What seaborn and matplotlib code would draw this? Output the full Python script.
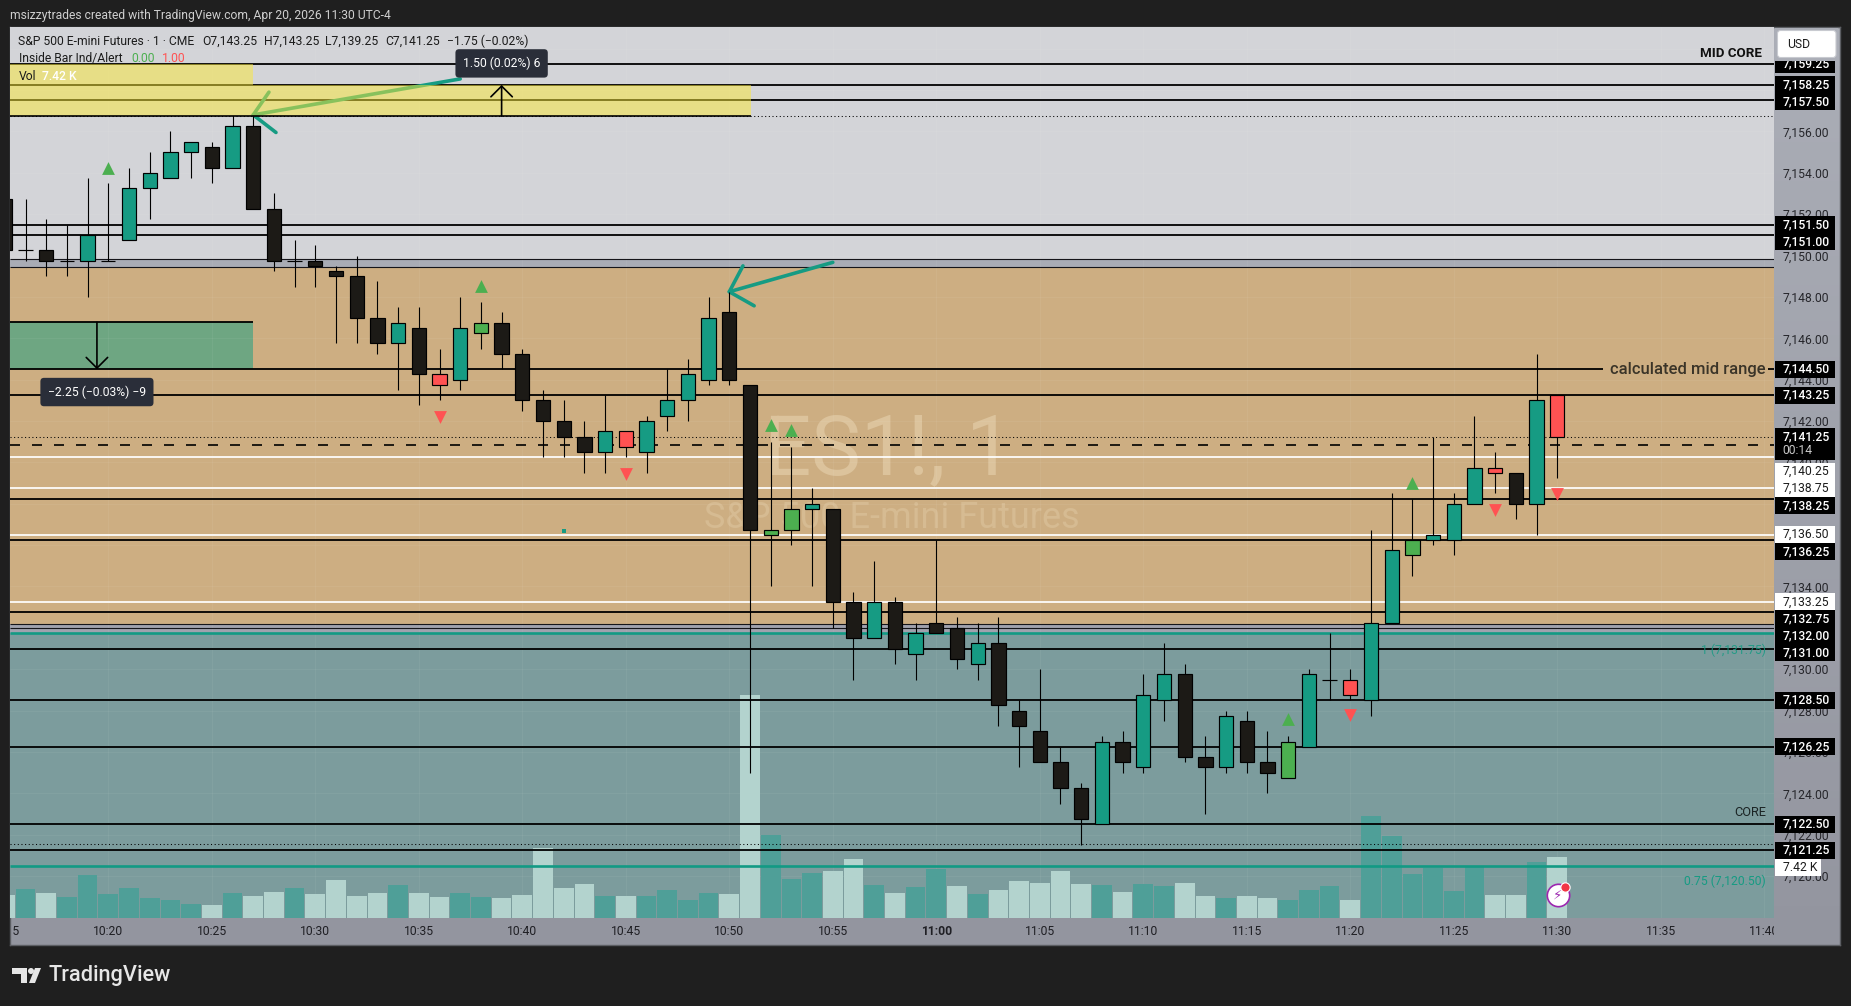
import numpy as np
import pandas as pd
import matplotlib.pyplot as plt
import matplotlib.colors as mcolors
import matplotlib.transforms as mtrans
from matplotlib.patches import Rectangle, FancyBboxPatch, Polygon, Circle
import seaborn as sns

# minutes after 10:00, one candle per minute (10:15 is cut by the left edge)
minutes = list(range(15, 91))
opens = [7152.75, 7150.25, 7150.25, 7149.75, 7149.75, 7149.75, 7150.75, 7153.25, 7153.75, 7155.0,
         7155.25, 7154.25, 7156.25, 7152.25, 7149.75, 7149.75, 7149.25, 7149.0, 7147.0, 7145.75,
         7146.5, 7144.25, 7144.0, 7146.25, 7146.75, 7145.25, 7143.0, 7142.0, 7141.25, 7140.5,
         7141.5, 7140.5, 7142.25, 7143.0, 7144.0, 7147.25, 7143.75, 7136.5, 7136.75, 7137.75,
         7137.75, 7133.25, 7131.5, 7133.25, 7130.75, 7131.75, 7132.0, 7130.25, 7131.25, 7128.0,
         7127.0, 7125.5, 7124.25, 7122.5, 7126.5, 7125.25, 7128.5, 7129.75, 7125.75, 7125.25,
         7127.5, 7125.5, 7124.75, 7126.25, 7129.5, 7129.5, 7128.5, 7132.25, 7135.5, 7136.25,
         7136.25, 7138.0, 7139.75, 7139.5, 7138.0, 7143.25]
highs = [7152.75, 7152.75, 7151.75, 7151.5, 7153.75, 7153.5, 7154.25, 7155.0, 7156.0, 7155.5,
         7155.5, 7156.75, 7156.75, 7153.0, 7150.75, 7150.5, 7149.5, 7150.0, 7148.75, 7147.5,
         7147.5, 7145.5, 7148.0, 7147.75, 7147.25, 7145.5, 7143.5, 7143.0, 7142.0, 7143.25,
         7141.5, 7142.25, 7144.5, 7145.0, 7148.0, 7148.25, 7143.75, 7141.0, 7140.75, 7138.75,
         7137.75, 7133.75, 7135.25, 7133.5, 7132.25, 7136.25, 7132.5, 7132.25, 7132.5, 7128.5,
         7130.0, 7126.25, 7124.5, 7126.75, 7127.0, 7129.75, 7131.25, 7130.25, 7126.75, 7128.0,
         7128.0, 7127.0, 7126.75, 7130.0, 7131.75, 7130.0, 7136.75, 7138.5, 7138.25, 7141.25,
         7138.5, 7142.25, 7140.5, 7139.5, 7145.25, 7143.25]
lows = [7150.25, 7149.75, 7149.0, 7149.0, 7148.0, 7149.75, 7150.75, 7151.75, 7153.75, 7153.75,
        7153.5, 7154.25, 7152.25, 7149.25, 7148.5, 7148.5, 7145.75, 7145.75, 7145.25, 7143.5,
        7142.75, 7143.0, 7143.5, 7145.5, 7144.5, 7142.5, 7140.25, 7140.25, 7139.5, 7139.5,
        7140.25, 7139.5, 7141.5, 7142.0, 7143.75, 7143.75, 7125.0, 7134.0, 7136.0, 7134.0,
        7132.0, 7129.5, 7131.5, 7130.25, 7129.5, 7131.75, 7130.0, 7129.5, 7127.25, 7125.25,
        7125.5, 7123.5, 7121.5, 7122.5, 7125.0, 7125.0, 7127.5, 7125.5, 7123.0, 7125.0,
        7125.0, 7124.0, 7124.75, 7126.25, 7128.5, 7128.5, 7127.75, 7132.25, 7134.5, 7136.0,
        7135.5, 7138.0, 7138.5, 7137.25, 7136.5, 7139.25]
closes = [7150.25, 7150.25, 7149.75, 7149.75, 7151.0, 7149.75, 7153.25, 7154.0, 7155.0, 7155.5,
          7154.25, 7156.25, 7152.25, 7149.75, 7149.75, 7149.5, 7149.0, 7147.0, 7145.75, 7146.75,
          7144.25, 7143.75, 7146.5, 7146.75, 7145.25, 7143.0, 7142.0, 7141.25, 7140.5, 7141.5,
          7140.75, 7142.0, 7143.0, 7144.25, 7147.0, 7144.0, 7136.75, 7136.75, 7137.75, 7138.0,
          7133.25, 7131.5, 7133.25, 7131.0, 7131.75, 7132.25, 7130.5, 7131.25, 7128.25, 7127.25,
          7125.5, 7124.25, 7122.75, 7126.5, 7125.5, 7128.75, 7129.75, 7125.75, 7125.25, 7127.75,
          7125.5, 7125.0, 7126.5, 7129.75, 7129.5, 7128.75, 7132.25, 7135.75, 7136.25, 7136.5,
          7138.0, 7139.75, 7139.5, 7138.0, 7143.0, 7141.25]
# u = up, d = down, r / g = inside bar indicator colours
kinds = list("ddddudu" "uuu" "dudddddddu" "drugdddddu" "ruuuuddggu" "ddududdudd" "ddd" "uduuddu"
             "ddgudruugu" "uurdur")

# volume in thousands, side follows the bar colour
volumes = [2.77, 3.51, 3.02, 2.53, 5.22, 2.90, 3.63, 2.41, 2.20, 1.67,
           1.55, 3.02, 2.65, 3.14, 3.63, 2.90, 4.61, 2.65, 3.02, 4.00,
           3.02, 2.53, 3.02, 2.53, 2.41, 2.77, 8.53, 3.63, 4.12, 2.65,
           2.65, 2.65, 3.39, 2.16, 3.02, 2.90, 27.25, 10.12, 4.73, 5.47,
           5.71, 7.18, 4.00, 3.02, 3.75, 5.96, 3.88, 2.90, 3.39, 4.49,
           4.24, 5.71, 4.12, 4.00, 3.14, 4.12, 3.88, 4.24, 2.65, 2.41,
           2.65, 2.41, 2.16, 3.39, 3.88, 2.16, 12.44, 10.00, 5.34, 6.08,
           3.26, 6.32, 2.77, 2.77, 6.81, 7.42]
vol_side = ["dn", "up", "dn", "up", "up", "up", "up", "up", "up", "up",
            "dn", "up", "dn", "dn", "up", "dn", "dn", "dn", "dn", "up",
            "dn", "dn", "up", "up", "dn", "dn", "dn", "dn", "dn", "up",
            "dn", "up", "up", "up", "up", "dn", "dn", "up", "up", "up",
            "dn", "dn", "up", "dn", "up", "up", "dn", "up", "dn", "dn",
            "dn", "dn", "dn", "up", "dn", "up", "up", "dn", "dn", "up",
            "dn", "dn", "up", "up", "up", "dn", "up", "up", "up", "up",
            "up", "up", "dn", "dn", "up", "dn"]

up_marks_t = [20, 38, 52, 53, 77, 83]
up_marks_p = [7154.25, 7148.55, 7141.8, 7141.55, 7127.6, 7139.0]
dn_marks_t = [36, 45, 80, 87, 90]
dn_marks_p = [7142.2, 7139.45, 7127.8, 7137.7, 7138.45]

black_levels = [7159.25, 7158.25, 7157.5, 7151.5, 7151.0, 7143.25, 7138.25, 7136.25,
                7132.75, 7131.0, 7128.5, 7126.25, 7122.5, 7121.25]
white_levels = [7140.25, 7138.75, 7136.5, 7133.25]
thin_levels = [7149.83, 7149.43, 7132.2, 7132.0]
teal_levels = [7131.75, 7120.5]
dotted_levels = [7156.75, 7141.25, 7121.55]
dashed_level = 7140.83
mid_range = 7144.5

axis_labels = [7159.25, 7158.25, 7157.5, 7151.5, 7151.0, 7144.5, 7143.25, 7141.25, 7140.25,
               7138.75, 7138.25, 7136.5, 7136.25, 7133.25, 7132.75, 7132.0, 7131.0, 7128.5,
               7126.25, 7122.5, 7121.25]
white_labels = [7140.25, 7138.75, 7136.5, 7133.25]
price_ticks = list(range(7120, 7162, 2))
time_ticks = list(range(15, 105, 5))

X_MIN, X_MAX = 15.25, 100.47
Y_MIN, Y_MAX = 7117.97, 7161.05
VOL_MAX = 108.9
STEP = 17 / 20.68

TEAL = "#169b83"
BLACK = "#1c1a16"
RED = "#ff5252"
GREEN = "#4caf50"
TV_FONT = ["Roboto", "DejaVu Sans"]

sns.set_theme(style="white")
plt.rcParams["font.family"] = TV_FONT
plt.rcParams["axes.unicode_minus"] = False

fig = plt.figure(figsize=(18.51, 10.06), dpi=100, facecolor="#1f1f1f")
px = mtrans.Affine2D().scale(1, -1).translate(0, 1006)


def put_text(x, y, s, **kw):
    kw.setdefault("color", "#1b1b1b")
    kw.setdefault("fontsize", 8.7)
    kw.setdefault("va", "center")
    kw.setdefault("zorder", 8)
    return fig.text(x, y, s, transform=px, **kw)


pos = [10 / 1851, 1 - 918 / 1006, 1764 / 1851, 891 / 1006]

# panel behind the price and time scales
panel = fig.add_axes([10 / 1851, 1 - 945 / 1006, 1830 / 1851, 918 / 1006], zorder=0)
cmap = mcolors.LinearSegmentedColormap.from_list("scale", ["#abaeb7", "#93959f"])
panel.imshow(np.linspace(0, 1, 256).reshape(-1, 1), aspect="auto", cmap=cmap)
panel.set_xticks([])
panel.set_yticks([])
for sp in panel.spines.values():
    sp.set_color("#5c5e63")
    sp.set_linewidth(1.0)

# zones and watermark
back = fig.add_axes(pos, zorder=1, facecolor="#d3d4d8")
back.axhspan(7149.43, 7149.83, color="#a9acb5", lw=0)
back.axhspan(7132.2, 7149.43, color="#cdae82", lw=0)
back.axhspan(7131.75, 7132.2, color="#a0a2ae", lw=0)
back.axhspan(Y_MIN, 7131.75, color="#7c9c9d", lw=0)
back.set_xticks(time_ticks)
back.set_yticks(price_ticks)
back.set_xticklabels([])
back.set_yticklabels([])
back.set_xlim(X_MIN, X_MAX)
back.set_ylim(Y_MIN, Y_MAX)
back.set_axisbelow(False)
back.grid(color="white", alpha=0.05, lw=0.7)
back.tick_params(length=0)
for sp in back.spines.values():
    sp.set_visible(False)
back.text(57.67, 7140.55, "ES1!, 1", fontsize=60, color="#dcc39c", ha="center", va="center", zorder=1.5)
back.text(57.86, 7137.3, "S&P 500 E-mini Futures", fontsize=26, color="#d6bb92", ha="center", va="center", zorder=1.5)

# volume
vol_ax = fig.add_axes(pos, zorder=2)
vol_ax.patch.set_visible(False)
vol_df = pd.DataFrame({"minute": minutes, "volume": volumes, "side": vol_side})
sns.barplot(data=vol_df, x="minute", y="volume", hue="side", palette={"up": "#4f9f98", "dn": "#b3d3ce"},
            native_scale=True, width=0.95, dodge=False, saturation=1, legend=False, linewidth=0, ax=vol_ax)
vol_ax.set_xlim(X_MIN, X_MAX)
vol_ax.set_ylim(0, VOL_MAX)
vol_ax.axis("off")

# price pane on top
ax = fig.add_axes(pos, zorder=3)
ax.patch.set_visible(False)

ax.hlines(black_levels, X_MIN, X_MAX, color="black", lw=1.3, zorder=3)
ax.hlines(white_levels, X_MIN, X_MAX, color="white", lw=1.25, zorder=3)
ax.hlines(thin_levels, X_MIN, X_MAX, color="#15151a", lw=0.8, zorder=3)
ax.hlines(teal_levels, X_MIN, X_MAX, color="#129a84", lw=1.9, zorder=3)
ax.hlines(dotted_levels, X_MIN, X_MAX, color="black", lw=0.75, linestyles=(0, (1, 2.5)), zorder=3)
ax.hlines(dashed_level, X_MIN, X_MAX, color="black", lw=1.2, linestyles=(0, (6, 7.2)), zorder=3)
ax.hlines(mid_range, X_MIN, 92.2, color="black", lw=1.3, zorder=3)
ax.hlines(mid_range, 100.2, X_MAX, color="black", lw=1.3, zorder=3)

# hand drawn arrows, the first one runs under the yellow box
for x_arrow, y_arrow in [([37.0, 27.0], [7158.54, 7156.8]), ([27.76, 27.0, 28.1], [7157.9, 7156.8, 7155.95]),
                         ([55.0, 50.0], [7149.67, 7148.25]), ([50.66, 50.0, 51.2], [7149.5, 7148.25, 7147.57])]:
    ax.plot(x_arrow, y_arrow, color=TEAL, lw=2.6, solid_capstyle="round", solid_joinstyle="round", zorder=3.2)

# measured boxes
ax.add_patch(Rectangle((X_MIN, 7156.75), 27 - X_MIN, 2.5, fc="#fbe836", alpha=0.5, lw=0, zorder=3.5))
ax.add_patch(Rectangle((27, 7156.75), 24.03, 1.5, fc="#fbe836", alpha=0.5, lw=0, zorder=3.5))
back.add_patch(Rectangle((X_MIN, 7144.5), 27 - X_MIN, 2.27, fc="#6ea682", lw=0, zorder=2))
ax.hlines(7156.75, X_MIN, 51.03, color="black", lw=1.2, zorder=3.6)
ax.hlines(7146.77, X_MIN, 27, color="black", lw=1.3, zorder=3.6)
ax.annotate("", xy=(39, 7158.25), xytext=(39, 7156.75), zorder=3.7,
            arrowprops=dict(arrowstyle="->,head_length=0.55,head_width=0.55", color="black", lw=1.2,
                            shrinkA=0, shrinkB=0, mutation_scale=14))
ax.annotate("", xy=(19.45, 7144.5), xytext=(19.45, 7146.77), zorder=3.7,
            arrowprops=dict(arrowstyle="->,head_length=0.55,head_width=0.55", color="black", lw=1.2,
                            shrinkA=0, shrinkB=0, mutation_scale=14))
tip = dict(boxstyle="round,pad=0.62,rounding_size=0.3", fc="#2a2e39", ec="none")
ax.text(39, 7159.29, "1.50 (0.02%) 6", color="white", fontsize=8.7, ha="center", va="center", bbox=tip, zorder=7)
ax.text(19.45, 7143.4, "\u22122.25 (\u22120.03%) \u22129", color="white", fontsize=8.7, ha="center", va="center", bbox=tip, zorder=7)

# candles
body_colors = {"u": TEAL, "d": BLACK, "r": RED, "g": GREEN}
ax.vlines(minutes, lows, highs, color="black", lw=0.8, zorder=4)
ax.bar(minutes, np.array(closes) - np.array(opens), bottom=opens, width=0.69,
       color=[body_colors[k] for k in kinds], edgecolor="black", linewidth=0.85, zorder=4.1)

sns.scatterplot(x=up_marks_t, y=up_marks_p, marker="^", color=GREEN, s=85, linewidth=0, ax=ax, zorder=5)
sns.scatterplot(x=dn_marks_t, y=dn_marks_p, marker="v", color=RED, s=85, linewidth=0, ax=ax, zorder=5)
sns.scatterplot(x=[42], y=[7136.67], marker="s", color=TEAL, s=5, linewidth=0, ax=ax, zorder=5)

# alert icon on the last volume bar
sns.scatterplot(x=[90.02], y=[7119.1], marker="o", color="white", edgecolor="#9c27b0", s=260, linewidth=1.2, ax=ax, zorder=6)
sns.scatterplot(x=[90.36], y=[7119.45], marker="o", color="#f23645", edgecolor="white", s=45, linewidth=0.8, ax=ax, zorder=6.2)
ax.text(90.0, 7119.08, "\u26a1", color="#9c27b0", fontsize=9.5, ha="center", va="center", zorder=6.1, family="DejaVu Sans")

ax.set_xticks([])
ax.set_xlabel("")
ax.yaxis.tick_right()
ax.set_axisbelow(True)
ax.set_yticks(price_ticks)
ax.set_yticklabels([f"{p:,.2f}" for p in price_ticks], fontsize=8.7, color="#26262b")
ax.tick_params(axis="y", length=0, pad=6.3)
ax.set_xlim(X_MIN, X_MAX)
ax.set_ylim(Y_MIN, Y_MAX)
for sp in ax.spines.values():
    sp.set_visible(False)

# time labels are clipped to the width of the pane
clip_area = mtrans.TransformedBbox(mtrans.Bbox([[0, -0.03], [1, 0]]), ax.transAxes)
for t in time_ticks:
    t_txt = ax.text(t, -0.0155, f"{10 + t // 60}:{t % 60:02d}", transform=ax.get_xaxis_transform(),
                    fontsize=8.7, color="#1f1f24", ha="center", va="center",
                    fontweight="bold" if t == 60 else "normal", zorder=2)
    t_txt.set_clip_path(None)
    t_txt.set_clip_box(clip_area)
    t_txt.set_clip_on(True)

# price scale labels are pushed down where they would overlap
y_tf = ax.get_yaxis_transform()
lab_x0 = 1 + 1 / 1764
lab_w = 60 / 1764
txt_x = 1 + 8.8 / 1764
prev = None
for p in axis_labels:
    y = p if prev is None else min(p, prev - STEP)
    prev = y
    is_white = p in white_labels
    top = y + STEP / 2
    bottom = y - STEP / 2
    if p == 7141.25:
        bottom = y - 1.12
        prev = y - 0.87
    ax.add_patch(Rectangle((lab_x0, bottom), lab_w, top - bottom, transform=y_tf, fc="white" if is_white else "black",
                           lw=0, clip_on=False, zorder=8))
    ax.text(txt_x, y, f"{p:,.2f}", transform=y_tf, color="#1b1b1b" if is_white else "white", fontsize=8.7,
            va="center", clip_on=False, zorder=9, fontweight="normal" if is_white else "medium")
    if p == 7141.25:
        ax.text(txt_x, y - 0.68, "00:14", transform=y_tf, color="#c9c9c9", fontsize=8.7, va="center", clip_on=False, zorder=9)
y = prev - STEP
ax.add_patch(Rectangle((lab_x0, y - STEP / 2), 46 / 1764, STEP, transform=y_tf, fc="white", lw=0, clip_on=False, zorder=8))
ax.text(txt_x, y, "7.42 K", transform=y_tf, color="#1b1b1b", fontsize=8.7, va="center", clip_on=False, zorder=9)

# notes inside the pane
ax.text(99.9, 7159.75, "MID CORE", color="#111111", fontsize=9.6, fontweight="bold", ha="right", va="center", zorder=7)
ax.text(92.55, 7144.47, "calculated mid range", color="#3a3428", fontsize=12, fontweight="medium", ha="left", va="center", zorder=7)
ax.text(100.07, 7123.05, "CORE", color="#1b2424", fontsize=9.2, ha="right", va="center", zorder=7)
ax.text(100.07, 7130.9, "1 (7,131.75)", color="#169b83", alpha=0.85, fontsize=8.7, ha="right", va="center", zorder=7)
ax.text(100.07, 7119.75, "0.75 (7,120.50)", color="#169b83", fontsize=8.7, ha="right", va="center", zorder=7)

# header and status lines
put_text(10, 15, "msizzytrades created with TradingView.com, Apr 20, 2026 11:30 UTC-4", color="#cfcfcf")
for x_pos, s in [(17.8, "S&P 500 E-mini Futures \u00b7 1 \u00b7 CME"), (202.5, "O7,143.25"), (264, "H7,143.25"),
                 (325.4, "L7,139.25"), (385.5, "C7,141.25"), (446.8, "\u22121.75 (\u22120.02%)")]:
    put_text(x_pos, 41.7, s)
put_text(18.6, 58.7, "Inside Bar Ind/Alert")
put_text(131, 58.7, "0.00", color=GREEN)
put_text(161.7, 58.7, "1.00", color=RED)
put_text(18.6, 76, "Vol")
put_text(41.5, 76, "7.42 K", color="white", fontweight="medium")

# currency button, its margin hides the top of the highest price label
fig.add_artist(Rectangle((1775, 28), 63, 33, transform=px, fc="#abaeb7", lw=0, zorder=6))
fig.add_artist(FancyBboxPatch((1779, 32), 55.5, 24, boxstyle="round,pad=1.5,rounding_size=3", transform=px,
                              fc="white", ec="#c8cad0", lw=0.8, zorder=7))
put_text(1786.7, 44.5, "USD")

# logo
fig.add_artist(Polygon([(12, 968), (27, 968), (27, 983), (21, 983), (21, 974), (12, 974)], transform=px,
                       fc="#e6e6e6", lw=0, zorder=7))
fig.add_artist(Circle((31, 971), 3, transform=px, fc="#e6e6e6", lw=0, zorder=7))
fig.add_artist(Polygon([(35, 968), (41, 968), (35, 983), (29, 983)], transform=px, fc="#e6e6e6", lw=0, zorder=7))
put_text(48.5, 975.5, "TradingView", color="#e6e6e6", fontsize=15.7, fontweight="medium")

fig.savefig("out.png", dpi=100, facecolor=fig.get_facecolor())
